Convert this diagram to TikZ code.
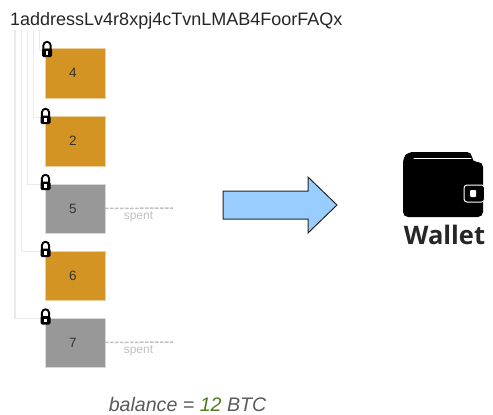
\documentclass[tikz,border=0pt]{standalone}
\usepackage{fontspec}
\setmainfont{Liberation Sans}
\newfontfamily\walletfont{Open Sans}
\usetikzlibrary{calc}
\definecolor{coinorange}{HTML}{D39423}
\definecolor{coingray}{HTML}{989898}
\definecolor{treegray}{HTML}{EAEAEA}
\definecolor{spentgray}{HTML}{C0C0C0}
\definecolor{arrowblue}{HTML}{99CCFF}
\definecolor{twelvegreen}{HTML}{4F7A1F}
\definecolor{balancegray}{HTML}{5A5A5A}
\tikzset{
    coin/.style={minimum width=60pt, minimum height=49.5pt, inner sep=0pt, font=\fontsize{13.5}{13.5}\selectfont, text=black!80, execute at end node=\hspace{4pt}},
    unspent/.style={coin, fill=coinorange, draw=coinorange!45},
    spentcoin/.style={coin, fill=coingray, draw=black!15},
    treeline/.style={draw=treegray, line width=1pt},
    spentline/.style={draw=spentgray, line width=1.5pt, dash pattern=on 3.5pt off 1.5pt},
    spentlabel/.style={text=spentgray, inner sep=0pt, font=\fontsize{12}{12}\selectfont},
    lockicon/.pic={
        \draw[line width=1.9pt] (-3.6,0) -- (-3.6,-4.6) arc[start angle=180, end angle=360, radius=3.6] -- (3.6,0);
        \fill[black, rounded corners=1.5pt] (-5,-1.5) rectangle (5,7);
        \fill[white] (-1.2,1) rectangle (1.2,4.5);
    }
}

\begin{document}
\begin{tikzpicture}[x=1pt, y=-1pt]
        \useasboundingbox (0,0) rectangle (493,415);

        % Address
        \node[anchor=west, inner sep=0pt, font=\fontsize{18}{18}\selectfont, text=black!85] (address) at (10,21) {1addressLv4r8xpj4cTvnLMAB4FoorFAQx};

        % Coins
        \node[unspent] (coin4) at (75,73) {\raisebox{-2pt}{4}};
        \node[unspent] (coin2) at (75,141) {\raisebox{-2pt}{2}};
        \node[spentcoin] (coin5) at (75,208.5) {5};
        \node[unspent] (coin6) at (75,275.5) {6};
        \node[spentcoin] (coin7) at (75,342.5) {7};

        % Tree lines below the address
        \coordinate (root4) at (39,30);
        \coordinate (root2) at (33,30);
        \coordinate (root5) at (27,30);
        \coordinate (root6) at (21,30);
        \coordinate (root7) at (15,30);
        \draw[treeline] (root4) |- ($(coin4.north west)+(0,2)$);
        \draw[treeline] (root2) |- ($(coin2.north west)+(0,1)$);
        \draw[treeline] (root5) |- ($(coin5.north west)+(0,0.5)$);
        \draw[treeline] (root6) |- ($(coin6.north west)+(0,1)$);
        \draw[treeline, line width=1.5pt] (root7) |- ($(coin7.north west)+(0,1)$);

        % Locks
        \pic at (47,50) {lockicon};
        \pic at (45.5,117) {lockicon};
        \pic at (45.5,183) {lockicon};
        \pic at (45.5,250) {lockicon};
        \pic at (45.5,317.5) {lockicon};

        % Spent outputs
        \coordinate (spent5) at (173,208);
        \coordinate (spent7) at (173,342);
        \draw[spentline] (coin5.east) -- (spent5);
        \draw[spentline] (coin7.east) -- (spent7);
        \node[spentlabel] (label5) at (138.5,216.5) {spent};
        \node[spentlabel] (label7) at (138.5,350.5) {spent};

        % Balance
        \node[inner sep=0pt, font=\fontsize{19.6}{20}\selectfont\itshape, text=balancegray] (balance) at (187.5,404) {balance = \textcolor{twelvegreen}{12} BTC};

        % Big arrow
        \draw[fill=arrowblue, line width=1pt, draw=black!85] (223,191) -- (308,191) -- (308,177) -- (337,205) -- (308,233) -- (308,219) -- (223,219) -- cycle;

        % Wallet
        \fill[black, rounded corners=5pt] (403,158) -- (403,217) -- (483,217) -- (483,162) -- (472,162) -- (472,152) -- (408,152) -- cycle;
        \draw[white, line width=1pt, line cap=round] (414,158) -- (471,158);
        \fill[black, rounded corners=3pt, draw=white, line width=1pt] (484.5,185) -- (464,185) -- (464,202) -- (484.5,202) -- cycle;
        \fill[white, rounded corners=1pt] (470,190) rectangle (476,197);
        \node[inner sep=0pt, font=\walletfont\bfseries\fontsize{25.5}{26}\selectfont, text=black!85] (wallet) at (444.5,234.5) {Wallet};
\end{tikzpicture}
\end{document}
